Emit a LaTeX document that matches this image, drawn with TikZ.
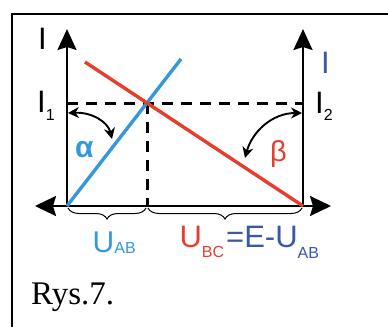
\documentclass[tikz,border=0pt]{standalone}
\usepackage{fontspec}
\setmainfont{Liberation Serif}
\newfontfamily\lblfont{Liberation Sans}
\usetikzlibrary{arrows.meta,decorations.pathreplacing}

\definecolor{lineblue}{RGB}{52,152,219}
\definecolor{linered}{RGB}{229,62,45}
\definecolor{darkblue}{RGB}{58,88,166}

% lowered small index for the sans labels
\newcommand{\lowsub}[2]{\raisebox{-#1}{\fontsize{16pt}{16pt}\selectfont #2}}

\begin{document}
\begin{tikzpicture}[x=1pt, y=-1pt,
    axis/.style={line width=2.4pt, -{Stealth[length=21pt, width=19pt, inset=3pt]}},
    haxis/.style={line width=2.4pt, {Stealth[length=21pt, width=20pt, inset=3pt]}-{Stealth[length=21pt, width=20pt, inset=3pt]}},
    dashline/.style={line width=3pt, dash pattern=on 11pt off 8pt},
    charline/.style={line width=3.4pt},
    anglearc/.style={line width=1.9pt, {Stealth[length=11pt, width=11pt]}-{Stealth[length=11pt, width=11pt]}},
    ubrace/.style={line width=1pt, decorate, decoration={brace, mirror, amplitude=11pt}},
    lbl/.style={inner sep=0pt, font=\lblfont\fontsize{31pt}{31pt}\selectfont, anchor=base west}
]
\useasboundingbox (0,0) rectangle (388,327);

% Frame
\draw[line width=1.6pt] (12,327) -- (12,14) -- (388,14);

% Points of the plot
\coordinate (O) at (67,206);
\coordinate (B) at (147,206);
\coordinate (C) at (303,206);
\coordinate (X) at (147,103);
\coordinate (xl) at (35,206);
\coordinate (xr) at (331,206);
\coordinate (topL) at (67,29);
\coordinate (topR) at (303,29);
\coordinate (i1) at (67,103);
\coordinate (i2) at (303,103);
\coordinate (blueEnd) at (181,59);
\coordinate (redEnd) at (85,62);

% Dashed guides
\draw[dashline] (i1) -- (i2);
\draw[dashline] (X) -- (B);

% Axes
\draw[haxis] (xl) -- (xr);
\draw[axis] (O) -- (topL);
\draw[axis] (C) -- (topR);

% Characteristics
\draw[charline, lineblue] (O) -- (blueEnd);
\draw[charline, linered] (redEnd) -- (C);

% Angles
\coordinate (a1) at (68,113);
\coordinate (a2) at (112,139);
\coordinate (b1) at (302,113);
\coordinate (b2) at (245,158);
\draw[anglearc] (a1) .. controls (92,112) and (108,122) .. (a2);
\draw[anglearc] (b1) .. controls (272,113) and (252,132) .. (b2);

% Braces
\draw[ubrace] (68,208) -- (146,208);
\draw[ubrace] (148,208) -- (302,208);

% Labels
\node[lbl] (iL) at (38,49) {I};
\node[lbl, text=darkblue] (iR) at (321,73) {I};
\node[lbl] (iOne) at (37,112) {I\lowsub{8pt}{1}};
\node[lbl] (iTwo) at (315,113) {I\lowsub{7pt}{2}};
\node[lbl, text=lineblue, font=\lblfont\bfseries\fontsize{30pt}{30pt}\selectfont] (alpha) at (75,157) {α};
\node[lbl, text=linered, font=\lblfont\fontsize{29pt}{29pt}\selectfont] (beta) at (270,161) {β};
\node[lbl, text=lineblue, font=\lblfont\fontsize{30pt}{30pt}\selectfont] (uab) at (92.5,252) {U\lowsub{1.5pt}{AB}};
\node[lbl, text=linered] (ubc) at (179.3,247) {U\lowsub{10pt}{BC}};
\node[lbl, text=darkblue] (rest) at (226,247) {=E-U\lowsub{11pt}{AB}};

% Caption
\node[inner sep=0pt, anchor=base west, font=\fontsize{33pt}{33pt}\selectfont] (rys) at (31,304) {Rys.7.};

\end{tikzpicture}
\end{document}
